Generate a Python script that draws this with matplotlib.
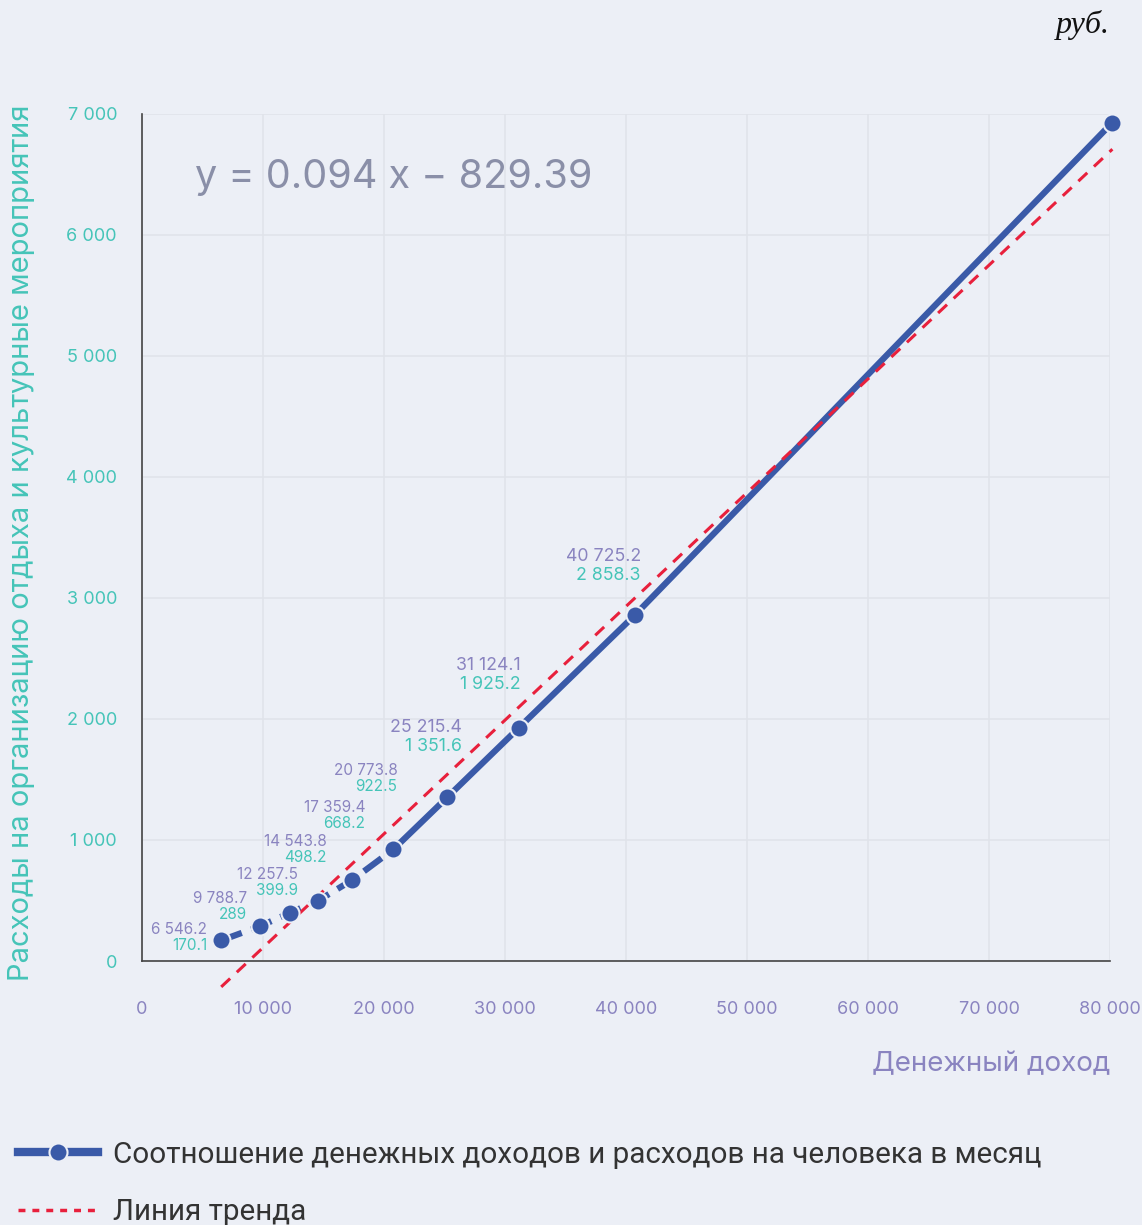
import matplotlib.pyplot as plt
import numpy as np

# доходы (x) и расходы на отдых и культуру (y), руб.
income = [6546.2, 9788.7, 12257.5, 14543.8, 17359.4, 20773.8, 25215.4, 31124.1, 40725.2, 80196.2]
spend = [170.1, 289, 399.9, 498.2, 668.2, 922.5, 1351.6, 1925.2, 2858.3, 6929.7]
income_labels = ['6 546.2', '9 788.7', '12 257.5', '14 543.8', '17 359.4', '20 773.8',
                 '25 215.4', '31 124.1', '40 725.2', '80 196.2']
spend_labels = ['170.1', '289', '399.9', '498.2', '668.2', '922.5',
                '1 351.6', '1 925.2', '2 858.3', '6 929.7']
trend_k, trend_b = 0.094, -829.39
x_ticks = [0, 10000, 20000, 30000, 40000, 50000, 60000, 70000, 80000]
y_ticks = [0, 1000, 2000, 3000, 4000, 5000, 6000, 7000]

BG = '#eceff6'
BLUE = '#3a5aa8'
RED = '#e8203c'
TEAL = '#45c4b8'
PURPLE = '#8a84c0'

plt.rcParams['font.family'] = ['Inter', 'DejaVu Sans']

fig = plt.figure(figsize=(11.42, 12.25), dpi=100, facecolor=BG)
ax = fig.add_axes([142 / 1142, 1 - 961 / 1225, 968 / 1142, 847 / 1225])
ax.set_facecolor(BG)

ax.set_xlim(0, 80000)
ax.set_ylim(0, 7000)
ax.set_xticks(x_ticks)
ax.set_yticks(y_ticks)
ax.set_xticklabels(['0' if v == 0 else f'{v:,}'.replace(',', ' ') for v in x_ticks],
                   color=PURPLE, fontsize=13)
ax.set_yticklabels(['0' if v == 0 else f'{v:,}'.replace(',', ' ') for v in y_ticks],
                   color=TEAL, fontsize=13)
ax.tick_params(axis='x', length=0, pad=29)
ax.tick_params(axis='y', length=0, pad=18)
ax.grid(True, color='#e0e3ea', linewidth=1.1)
ax.set_axisbelow(True)
for s in ['top', 'right']:
    ax.spines[s].set_visible(False)
for s in ['left', 'bottom']:
    ax.spines[s].set_color('#444444')
    ax.spines[s].set_linewidth(1.2)

x = np.array(income)
y = np.array(spend)

# пунктир на первых точках, дальше сплошная линия
ax.plot(x[:6], y[:6], color=BLUE, lw=4.5, linestyle=(0, (3.5, 1.6)),
        solid_capstyle='butt', zorder=3)
ax.plot(x[5:], y[5:], color=BLUE, lw=4.5, solid_capstyle='butt', zorder=3)

# линия тренда
tx = np.array([x[0], x[-1]])
ax.plot(tx, trend_k * tx + trend_b, color=RED, lw=2.2, linestyle=(0, (4, 3)),
        clip_on=False, zorder=4)

ax.plot(x, y, 'o', color=BLUE, ms=13, mec=BG, mew=1.5, zorder=5, clip_on=False)

# подписи точек (смещения в пикселях)
offsets = [(-14, 11, -5), (-13, 28, 12), (8, 38, 22), (9, 59, 43), (13, 73, 57),
           (4, 79, 63), (15, 70, 51), (2, 63, 44), (6, 59, 40), (-24, 19, 0)]
for i in range(len(x)):
    dx, dy1, dy2 = offsets[i]
    fs = 12.8 if i >= 6 else 11
    ax.annotate(income_labels[i], (x[i], y[i]), xytext=(dx, dy1), textcoords='offset pixels',
                ha='right', va='center', color=PURPLE, fontsize=fs, zorder=6)
    ax.annotate(spend_labels[i], (x[i], y[i]), xytext=(dx, dy2), textcoords='offset pixels',
                ha='right', va='center', color=TEAL, fontsize=fs, zorder=6)

ax.text(0.055, 0.925, 'y = 0.094 x − 829.39', transform=ax.transAxes,
        fontsize=28.5, color='#8a8fa8', va='center', ha='left')

fig.text(22 / 1142, 1 - 543 / 1225, 'Расходы на организацию отдыха и культурные мероприятия',
         rotation=90, color=TEAL, fontsize=21, ha='center', va='center')
fig.text(1110 / 1142, 1 - 1064 / 1225, 'Денежный доход', color=PURPLE, fontsize=20,
         ha='right', va='center')
fig.text(1110 / 1142, 1 - 25 / 1225, 'руб.', color='#111111', fontsize=23,
         family='Liberation Serif', style='italic', ha='right', va='center')

h1, = ax.plot([], [], color=BLUE, lw=6, marker='o', ms=13, mec=BG, mew=1.5)
h2, = ax.plot([], [], color=RED, lw=2.5, linestyle=(0, (2, 2)))
fig.legend([h1, h2], ['Соотношение денежных доходов и расходов на человека в месяц', 'Линия тренда'],
           loc='upper left', bbox_to_anchor=(0.003, 1 - 1126 / 1225), frameon=False,
           prop={'family': 'Roboto', 'size': 21.3}, labelcolor='#333333',
           handlelength=2.7, handletextpad=0.5, labelspacing=1.0, borderpad=0)

fig.savefig('out.png', dpi=100, facecolor=BG)
